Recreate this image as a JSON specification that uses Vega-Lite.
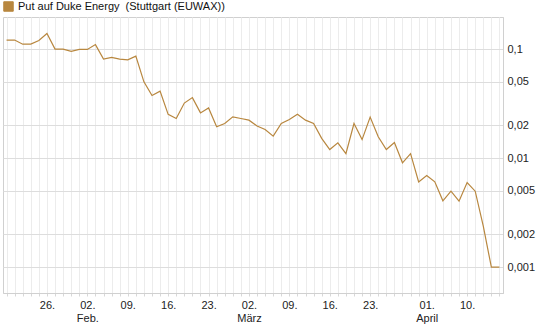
{
  "$schema": "https://vega.github.io/schema/vega-lite/v6.json",
  "autosize": {"type": "none"},
  "width": 500,
  "height": 276,
  "padding": {"left": 3, "top": 17, "right": 42, "bottom": 34},
  "background": "#ffffff",
  "config": {
    "font": "Liberation Sans",
    "view": {"stroke": "#d0d0d0", "strokeWidth": 1}
  },
  "data": {
    "values": [
      {"date": "2015-01-19", "price": 0.121, "series": "Put auf Duke Energy \u00a0(Stuttgart (EUWAX))"},
      {"date": "2015-01-20", "price": 0.121, "series": "Put auf Duke Energy \u00a0(Stuttgart (EUWAX))"},
      {"date": "2015-01-21", "price": 0.111, "series": "Put auf Duke Energy \u00a0(Stuttgart (EUWAX))"},
      {"date": "2015-01-22", "price": 0.111, "series": "Put auf Duke Energy \u00a0(Stuttgart (EUWAX))"},
      {"date": "2015-01-23", "price": 0.120, "series": "Put auf Duke Energy \u00a0(Stuttgart (EUWAX))"},
      {"date": "2015-01-26", "price": 0.139, "series": "Put auf Duke Energy \u00a0(Stuttgart (EUWAX))"},
      {"date": "2015-01-27", "price": 0.100, "series": "Put auf Duke Energy \u00a0(Stuttgart (EUWAX))"},
      {"date": "2015-01-28", "price": 0.100, "series": "Put auf Duke Energy \u00a0(Stuttgart (EUWAX))"},
      {"date": "2015-01-29", "price": 0.0953, "series": "Put auf Duke Energy \u00a0(Stuttgart (EUWAX))"},
      {"date": "2015-01-30", "price": 0.0994, "series": "Put auf Duke Energy \u00a0(Stuttgart (EUWAX))"},
      {"date": "2015-02-02", "price": 0.0994, "series": "Put auf Duke Energy \u00a0(Stuttgart (EUWAX))"},
      {"date": "2015-02-03", "price": 0.110, "series": "Put auf Duke Energy \u00a0(Stuttgart (EUWAX))"},
      {"date": "2015-02-04", "price": 0.0810, "series": "Put auf Duke Energy \u00a0(Stuttgart (EUWAX))"},
      {"date": "2015-02-05", "price": 0.0839, "series": "Put auf Duke Energy \u00a0(Stuttgart (EUWAX))"},
      {"date": "2015-02-06", "price": 0.0810, "series": "Put auf Duke Energy \u00a0(Stuttgart (EUWAX))"},
      {"date": "2015-02-09", "price": 0.0798, "series": "Put auf Duke Energy \u00a0(Stuttgart (EUWAX))"},
      {"date": "2015-02-10", "price": 0.0863, "series": "Put auf Duke Energy \u00a0(Stuttgart (EUWAX))"},
      {"date": "2015-02-11", "price": 0.0501, "series": "Put auf Duke Energy \u00a0(Stuttgart (EUWAX))"},
      {"date": "2015-02-12", "price": 0.0376, "series": "Put auf Duke Energy \u00a0(Stuttgart (EUWAX))"},
      {"date": "2015-02-13", "price": 0.0412, "series": "Put auf Duke Energy \u00a0(Stuttgart (EUWAX))"},
      {"date": "2015-02-16", "price": 0.0252, "series": "Put auf Duke Energy \u00a0(Stuttgart (EUWAX))"},
      {"date": "2015-02-17", "price": 0.0231, "series": "Put auf Duke Energy \u00a0(Stuttgart (EUWAX))"},
      {"date": "2015-02-18", "price": 0.0320, "series": "Put auf Duke Energy \u00a0(Stuttgart (EUWAX))"},
      {"date": "2015-02-19", "price": 0.0359, "series": "Put auf Duke Energy \u00a0(Stuttgart (EUWAX))"},
      {"date": "2015-02-20", "price": 0.0260, "series": "Put auf Duke Energy \u00a0(Stuttgart (EUWAX))"},
      {"date": "2015-02-23", "price": 0.0289, "series": "Put auf Duke Energy \u00a0(Stuttgart (EUWAX))"},
      {"date": "2015-02-24", "price": 0.0194, "series": "Put auf Duke Energy \u00a0(Stuttgart (EUWAX))"},
      {"date": "2015-02-25", "price": 0.0208, "series": "Put auf Duke Energy \u00a0(Stuttgart (EUWAX))"},
      {"date": "2015-02-26", "price": 0.0239, "series": "Put auf Duke Energy \u00a0(Stuttgart (EUWAX))"},
      {"date": "2015-02-27", "price": 0.0231, "series": "Put auf Duke Energy \u00a0(Stuttgart (EUWAX))"},
      {"date": "2015-03-02", "price": 0.0223, "series": "Put auf Duke Energy \u00a0(Stuttgart (EUWAX))"},
      {"date": "2015-03-03", "price": 0.0197, "series": "Put auf Duke Energy \u00a0(Stuttgart (EUWAX))"},
      {"date": "2015-03-04", "price": 0.0183, "series": "Put auf Duke Energy \u00a0(Stuttgart (EUWAX))"},
      {"date": "2015-03-05", "price": 0.0159, "series": "Put auf Duke Energy \u00a0(Stuttgart (EUWAX))"},
      {"date": "2015-03-06", "price": 0.0208, "series": "Put auf Duke Energy \u00a0(Stuttgart (EUWAX))"},
      {"date": "2015-03-09", "price": 0.0226, "series": "Put auf Duke Energy \u00a0(Stuttgart (EUWAX))"},
      {"date": "2015-03-10", "price": 0.0253, "series": "Put auf Duke Energy \u00a0(Stuttgart (EUWAX))"},
      {"date": "2015-03-11", "price": 0.0223, "series": "Put auf Duke Energy \u00a0(Stuttgart (EUWAX))"},
      {"date": "2015-03-12", "price": 0.0208, "series": "Put auf Duke Energy \u00a0(Stuttgart (EUWAX))"},
      {"date": "2015-03-13", "price": 0.0152, "series": "Put auf Duke Energy \u00a0(Stuttgart (EUWAX))"},
      {"date": "2015-03-16", "price": 0.0120, "series": "Put auf Duke Energy \u00a0(Stuttgart (EUWAX))"},
      {"date": "2015-03-17", "price": 0.0138, "series": "Put auf Duke Energy \u00a0(Stuttgart (EUWAX))"},
      {"date": "2015-03-18", "price": 0.0110, "series": "Put auf Duke Energy \u00a0(Stuttgart (EUWAX))"},
      {"date": "2015-03-19", "price": 0.0208, "series": "Put auf Duke Energy \u00a0(Stuttgart (EUWAX))"},
      {"date": "2015-03-20", "price": 0.0148, "series": "Put auf Duke Energy \u00a0(Stuttgart (EUWAX))"},
      {"date": "2015-03-23", "price": 0.0238, "series": "Put auf Duke Energy \u00a0(Stuttgart (EUWAX))"},
      {"date": "2015-03-24", "price": 0.0157, "series": "Put auf Duke Energy \u00a0(Stuttgart (EUWAX))"},
      {"date": "2015-03-25", "price": 0.0120, "series": "Put auf Duke Energy \u00a0(Stuttgart (EUWAX))"},
      {"date": "2015-03-26", "price": 0.0139, "series": "Put auf Duke Energy \u00a0(Stuttgart (EUWAX))"},
      {"date": "2015-03-27", "price": 0.00906, "series": "Put auf Duke Energy \u00a0(Stuttgart (EUWAX))"},
      {"date": "2015-03-30", "price": 0.0110, "series": "Put auf Duke Energy \u00a0(Stuttgart (EUWAX))"},
      {"date": "2015-03-31", "price": 0.00606, "series": "Put auf Duke Energy \u00a0(Stuttgart (EUWAX))"},
      {"date": "2015-04-01", "price": 0.00694, "series": "Put auf Duke Energy \u00a0(Stuttgart (EUWAX))"},
      {"date": "2015-04-02", "price": 0.00606, "series": "Put auf Duke Energy \u00a0(Stuttgart (EUWAX))"},
      {"date": "2015-04-07", "price": 0.00406, "series": "Put auf Duke Energy \u00a0(Stuttgart (EUWAX))"},
      {"date": "2015-04-08", "price": 0.00498, "series": "Put auf Duke Energy \u00a0(Stuttgart (EUWAX))"},
      {"date": "2015-04-09", "price": 0.00403, "series": "Put auf Duke Energy \u00a0(Stuttgart (EUWAX))"},
      {"date": "2015-04-10", "price": 0.00598, "series": "Put auf Duke Energy \u00a0(Stuttgart (EUWAX))"},
      {"date": "2015-04-13", "price": 0.00498, "series": "Put auf Duke Energy \u00a0(Stuttgart (EUWAX))"},
      {"date": "2015-04-14", "price": 0.00238, "series": "Put auf Duke Energy \u00a0(Stuttgart (EUWAX))"},
      {"date": "2015-04-15", "price": 0.001, "series": "Put auf Duke Energy \u00a0(Stuttgart (EUWAX))"},
      {"date": "2015-04-16", "price": 0.001, "series": "Put auf Duke Energy \u00a0(Stuttgart (EUWAX))"}
    ]
  },
  "mark": {"type": "line", "strokeWidth": 1.2, "interpolate": "linear"},
  "encoding": {
    "x": {
      "field": "date",
      "type": "ordinal",
      "sort": null,
      "scale": {"type": "point", "padding": 0.44},
      "axis": {
        "title": null,
        "grid": true,
        "gridColor": "#ececec",
        "gridWidth": 1,
        "domain": true,
        "domainColor": "#d0d0d0",
        "ticks": true,
        "tickSize": 3,
        "tickColor": "#d8d8d8",
        "labelAngle": 0,
        "labelFontSize": 11,
        "labelColor": "#222222",
        "labelPadding": 3,
        "labelLineHeight": 13,
        "labelOverlap": false,
        "labelBound": false,
        "labelFlush": false,
        "labelExpr": "datum.value == '2015-01-26' ? '26.' : datum.value == '2015-02-02' ? ['02.', 'Feb.'] : datum.value == '2015-02-09' ? '09.' : datum.value == '2015-02-16' ? '16.' : datum.value == '2015-02-23' ? '23.' : datum.value == '2015-03-02' ? ['02.', 'März'] : datum.value == '2015-03-09' ? '09.' : datum.value == '2015-03-16' ? '16.' : datum.value == '2015-03-23' ? '23.' : datum.value == '2015-04-01' ? ['01.', 'April'] : datum.value == '2015-04-10' ? '10.' : ''"
      }
    },
    "y": {
      "field": "price",
      "type": "quantitative",
      "scale": {"type": "log", "domain": [0.00058, 0.197], "nice": false, "zero": false},
      "axis": {
        "orient": "right",
        "title": null,
        "values": [0.001, 0.002, 0.005, 0.01, 0.02, 0.05, 0.1],
        "grid": true,
        "gridColor": "#dddddd",
        "gridWidth": 1,
        "domain": true,
        "domainColor": "#d0d0d0",
        "ticks": false,
        "labelPadding": 4,
        "labelFontSize": 11,
        "labelColor": "#222222",
        "labelExpr": "replace(toString(datum.value), '.', ',')"
      }
    },
    "color": {
      "field": "series",
      "type": "nominal",
      "scale": {"range": ["#b8873f"]},
      "legend": {
        "title": null,
        "orient": "none",
        "legendX": 0,
        "legendY": -16,
        "symbolType": "square",
        "symbolSize": 90,
        "symbolFillColor": "#b8873f",
        "symbolStrokeColor": "#3a3020",
        "symbolStrokeWidth": 1,
        "symbolOpacity": 1,
        "labelFontSize": 11,
        "labelColor": "#111111",
        "labelOffset": 4,
        "labelLimit": 0,
        "padding": 0
      }
    }
  }
}
